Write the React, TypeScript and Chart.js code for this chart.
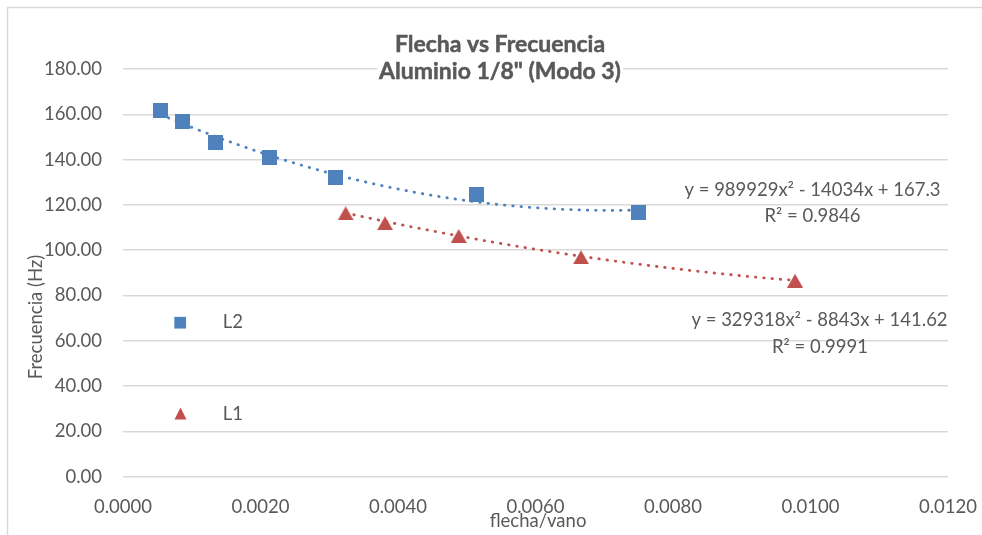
import React, { useEffect, useRef } from "react";
import { Chart, registerables } from "chart.js";

Chart.register(...registerables);

// ---- data ----
const L2_X = [0.000548, 0.000868, 0.001343, 0.002128, 0.003088, 0.005146, 0.007501];
const L2_Y = [161.6, 156.7, 147.5, 140.8, 131.9, 124.4, 116.6];
const L1_X = [0.003239, 0.003811, 0.004883, 0.006662, 0.009775];
const L1_Y = [116.3, 111.9, 106.3, 96.9, 86.5];
// trendline coefficients shown in the chart: [c0, c1, c2] for y = c2 x^2 + c1 x + c0
const L2_FIT = [167.3, -14034, 989929];
const L1_FIT = [141.62, -8843, 329318];
const L2_EQ = ["y = 989929x² - 14034x + 167.3", "R² = 0.9846"];
const L1_EQ = ["y = 329318x² - 8843x + 141.62", "R² = 0.9991"];
const SERIES_NAMES = ["L2", "L1"];
const TITLE_LINES = ["Flecha vs Frecuencia", 'Aluminio 1/8" (Modo 3)'];
const X_TITLE = "flecha/vano";
const Y_TITLE = "Frecuencia (Hz)";
const X_MIN = 0, X_MAX = 0.012, X_STEP = 0.002;
const Y_MIN = 0, Y_MAX = 180, Y_STEP = 20;

const BLUE = "#4F81BD";
const RED = "#C0504D";
const TEXT = "#595959";
const GRID = "#D9D9D9";
const FONT = "Lato, 'Open Sans', sans-serif";

function trend(xs: number[], c: number[]) {
  const a = xs[0], b = xs[xs.length - 1];
  const n = 120;
  const out: { x: number; y: number }[] = [];
  for (let i = 0; i <= n; i++) {
    const x = a + ((b - a) * i) / n;
    out.push({ x, y: c[0] + c[1] * x + c[2] * x * x });
  }
  return out;
}

function makeSquare(color: string, size: number) {
  const c = document.createElement("canvas");
  c.width = size; c.height = size;
  const g = c.getContext("2d")!;
  g.fillStyle = color;
  g.fillRect(0, 0, size, size);
  return c;
}
function makeTriangle(color: string, w: number, h: number) {
  const c = document.createElement("canvas");
  c.width = w; c.height = h;
  const g = c.getContext("2d")!;
  g.fillStyle = color;
  g.beginPath();
  g.moveTo(w / 2, 0);
  g.lineTo(w, h);
  g.lineTo(0, h);
  g.closePath();
  g.fill();
  return c;
}

const overlay = {
  id: "overlay",
  beforeDraw(chart: any) {
    const ctx = chart.ctx;
    ctx.save();
    ctx.fillStyle = "#fff";
    ctx.fillRect(0, 0, chart.width, chart.height);
    ctx.strokeStyle = GRID;
    ctx.lineWidth = 1.5;
    ctx.beginPath();
    ctx.moveTo(7.5, chart.height);
    ctx.lineTo(7.5, 7.5);
    ctx.lineTo(chart.width, 7.5);
    ctx.stroke();
    ctx.restore();
  },
  afterDraw(chart: any) {
    const ctx = chart.ctx;
    ctx.save();
    // title
    ctx.font = `bold 23px ${FONT}`;
    ctx.textAlign = "center";
    ctx.textBaseline = "alphabetic";
    const w = Math.max(...TITLE_LINES.map((t) => ctx.measureText(t).width));
    ctx.fillStyle = "#fff";
    ctx.fillRect(500 - w / 2 - 2, 58, w + 4, 28);
    ctx.fillStyle = TEXT;
    ctx.strokeStyle = TEXT;
    ctx.lineWidth = 0.5;
    ctx.fillText(TITLE_LINES[0], 500, 51.5);
    ctx.strokeText(TITLE_LINES[0], 500, 51.5);
    ctx.fillText(TITLE_LINES[1], 500, 79);
    ctx.strokeText(TITLE_LINES[1], 500, 79);

    ctx.font = `18.5px ${FONT}`;
    ctx.textBaseline = "middle";
    // trendline labels
    ctx.fillText(L2_EQ[0], 812.5, 190);
    ctx.fillText(L2_EQ[1], 812.5, 215.7);
    ctx.fillText(L1_EQ[0], 819.5, 320);
    ctx.fillText(L1_EQ[1], 820, 346.7);

    // axis titles
    ctx.fillText(X_TITLE, 538, 521);
    ctx.save();
    ctx.translate(36, 317);
    ctx.rotate(-Math.PI / 2);
    ctx.fillText(Y_TITLE, 0, 0);
    ctx.restore();

    // legend
    ctx.fillStyle = BLUE;
    ctx.fillRect(180.2 - 5.85, 322.7 - 5.85, 11.7, 11.7);
    ctx.fillStyle = RED;
    ctx.beginPath();
    ctx.moveTo(180.5, 407.5);
    ctx.lineTo(186.5, 419.5);
    ctx.lineTo(174.5, 419.5);
    ctx.closePath();
    ctx.fill();
    ctx.fillStyle = TEXT;
    ctx.textAlign = "left";
    ctx.fillText(SERIES_NAMES[0], 222.7, 322);
    ctx.fillText(SERIES_NAMES[1], 222.7, 414);
    ctx.restore();
  },
};

export default function App() {
  const ref = useRef<HTMLCanvasElement>(null);
  useEffect(() => {
    document.body.style.margin = "0";
    const sq = makeSquare(BLUE, 15);
    const tri = makeTriangle(RED, 16, 14);
    const tickFont = { family: FONT, size: 18.5 };
    const chart = new Chart(ref.current!, {
      type: "scatter",
      data: {
        datasets: [
          {
            label: SERIES_NAMES[0],
            data: L2_X.map((x, i) => ({ x, y: L2_Y[i] })),
            pointStyle: sq as any,
            backgroundColor: BLUE,
            borderColor: BLUE,
          },
          {
            label: SERIES_NAMES[1],
            data: L1_X.map((x, i) => ({ x, y: L1_Y[i] })),
            pointStyle: tri as any,
            backgroundColor: RED,
            borderColor: RED,
          },
          {
            label: "trend L2",
            data: trend(L2_X, L2_FIT),
            showLine: true,
            pointRadius: 0,
            borderColor: BLUE,
            borderWidth: 2.8,
            borderDash: [0.5, 7.8],
            borderCapStyle: "round",
          },
          {
            label: "trend L1",
            data: trend(L1_X, L1_FIT),
            showLine: true,
            pointRadius: 0,
            borderColor: RED,
            borderWidth: 2.8,
            borderDash: [0.5, 7.8],
            borderCapStyle: "round",
          },
        ] as any,
      },
      options: {
        responsive: false,
        animation: false,
        layout: { padding: { top: 69, right: 34, bottom: 0, left: 0 } },
        plugins: {
          legend: { display: false },
          tooltip: { enabled: false },
          title: { display: false },
        },
        scales: {
          x: {
            type: "linear",
            min: X_MIN,
            max: X_MAX,
            ticks: {
              stepSize: X_STEP,
              callback: (v: any) => Number(v).toFixed(4),
              font: tickFont,
              color: TEXT,
              padding: 19,
              maxRotation: 0,
              autoSkip: false,
            },
            grid: { display: false, drawTicks: false },
            border: { display: false },
            afterFit: (s: any) => {
              s.height = 58.3;
              s.paddingLeft = 0;
              s.paddingRight = 0;
            },
          },
          y: {
            type: "linear",
            min: Y_MIN,
            max: Y_MAX,
            ticks: {
              stepSize: Y_STEP,
              callback: (v: any) => Number(v).toFixed(2),
              font: tickFont,
              color: TEXT,
              padding: 21,
            },
            grid: { color: GRID, lineWidth: 1.5, drawTicks: false },
            border: { display: false },
            afterFit: (s: any) => { s.width = 123; },
          },
        },
      } as any,
      plugins: [overlay],
    });
    return () => chart.destroy();
  }, []);
  return (
    <div style={{ width: 982, height: 535 }}>
      <canvas ref={ref} width={982} height={535} style={{ width: 982, height: 535, display: "block" }} />
    </div>
  );
}
